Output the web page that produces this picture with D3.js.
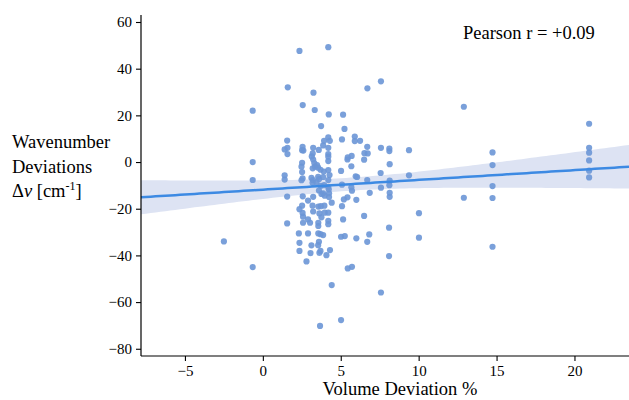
<!DOCTYPE html>
<html>
<head>
<meta charset="utf-8">
<script src="https://cdn.jsdelivr.net/npm/d3@7"></script>
<style>
  body { margin: 0; background: #fff; }
  svg text { font-family: "Liberation Serif", "Times New Roman", serif; fill: #000; }
</style>
</head>
<body>
<svg id="chart" width="629" height="400"></svg>
<script>
// volume deviation (%) and wavenumber deviation (cm-1)
const volDev = [
  -0.65, -0.65, -0.65, -0.65, -2.5,
  1.6, 1.56, 1.4, 1.58, 1.58, 1.4, 1.4, 1.56, 1.56,
  2.35, 2.56, 2.55, 2.52, 2.6, 2.52, 2.48, 2.52, 2.55, 2.48, 2.56, 2.52, 2.35, 2.55, 2.58, 2.58, 2.31, 2.35, 2.35, 2.8,
  3.25, 3.33, 3.23, 3.2, 3.14, 3.23, 3.3, 3.2, 3.35, 3.12, 3.22, 3.19, 3.23, 2.9, 3.19, 3.23, 2.9, 3.03, 2.9, 3.12, 3.06,
  3.74, 3.59, 3.87, 3.48, 3.55, 3.7, 3.55, 3.61, 3.44, 3.72, 3.6, 3.76, 3.56, 3.72, 3.63, 3.76, 3.56, 3.56, 3.56, 3.7, 3.6, 3.55, 3.63, 3.7, 3.67,
  4.2, 4.23, 3.93, 4.2, 4.3, 4.2, 4.2, 4.2, 4.2, 3.91, 4.2, 4.28, 3.87, 4.2, 3.93, 4.2, 4.23, 3.87, 4.25, 3.97, 4.25, 3.95, 4.42, 3.97, 4.2, 4.2, 4.2, 3.87, 4.08, 4.31, 4.42,
  5.15, 5.24, 5.08, 5.02, 5.08, 5.43, 5.2, 5.08, 5.15, 5.02, 5.26, 5.02, 5.45, 5.43,
  5.9, 5.9, 6.24, 5.7, 5.68, 5.96, 6.05, 5.68, 5.72, 6.0, 6.0, 5.45, 5.72,
  6.71, 6.7, 6.52, 6.73, 6.5, 6.7, 6.86, 6.5, 6.83, 6.7,
  7.58, 7.58, 7.56, 7.58, 7.58,
  8.12, 8.12, 8.14, 8.14, 8.12, 8.14, 8.14, 8.1, 8.1,
  9.38, 9.38, 10.02, 10.02, 12.9, 12.9,
  14.74, 14.74, 14.74, 14.74, 14.74,
  20.94, 20.94, 20.94, 20.94, 20.94, 20.94
];
const waveDev = [
  22, 0, -7.7, -45, -34,
  32, 9.2, 5.4, 6.1, 3.4, -5.7, -7.5, -14.8, -26.3,
  47.6, 24.4, 6.5, 5.1, 4.9, -0.3, -2, -4.3, -7, -7.8, -14.7, -18.7, -20.2, -21.8, -23.4, -26, -30.6, -34.6, -38.1, -42.6,
  29.7, 22.3, 6.1, 3.7, 2.4, 1.1, -0.4, -2.7, -2, -6.8, -7.7, -8.9, -14.9, -16.5, -18.7, -21.2, -24.6, -26, -30.6, -35.7, -39,
  15.4, 5.2, 7.1, -1.3, -2.4, -3.3, -6.3, -7.3, -8.7, -10.2, -12.2, -13.7, -19.1, -18.9, -22, -23.7, -26, -27.4, -30.6, -30.9, -34.2, -35.6, -38.9, -38.1, -70.2,
  49.2, 20.4, 9.1, 10.6, 9.1, 6.1, 3.4, 2.3, 0.4, -4.1, -3.4, -5.6, -6.4, -7.7, -9.9, -10.6, -11.7, -13.4, -13.4, -14.4, -15, -18.7, -17.4, -21.7, -21.7, -25.2, -26.6, -31.3, -39.9, -37.7, -52.7,
  20.3, 14.2, 9.7, -3.8, -9.7, -15.1, -16, -18.9, -24.6, -32, -31.7, -67.7, 2, 1.1,
  10.9, 9, 9.1, 2.6, -1.8, -6.1, -6.4, -10.8, -12.3, -16.2, -32.7, -45.6, -44.9,
  31.6, 6.5, 3.8, 3.7, 1, -7.7, -13.2, -23.1, -31, -34.2,
  34.6, 6.1, -4.7, -11, -55.9,
  5.8, 4.7, -0.9, -8, -9.9, -13.2, -14.9, -28.1, -40.3,
  5.1, -5.7, -21.9, -32.4, 23.7, -15.3,
  4.1, -1.3, -10.3, -15.4, -36.3,
  16.4, 6.1, 4, 0.7, -3.7, -6.6
];
// regression fit: line and 95% band
const fitIntercept = -11.83, fitSlope = 0.418;
const bandCentre = 5.7, bandMin = 2.8, bandGrowth = 0.5;
const xTicks = [-5, 0, 5, 10, 15, 20];
const yTicks = [-80, -60, -40, -20, 0, 20, 40, 60];
const yLabelLines = ["Wavenumber", "Deviations"];
const pearsonLabel = "Pearson r = +0.09";

const serif = '"Liberation Serif", "Times New Roman", serif';
const svg = d3.select('#chart');
const margin = { left: 141, right: 0, top: 15, bottom: 44 };
const width = 629, height = 400;

const x = d3.scaleLinear().domain([-7.82, 23.5]).range([margin.left, width - margin.right]);
const y = d3.scaleLinear().domain([-83.1, 63]).range([height - margin.bottom, margin.top]);

const points = volDev.map(function(v, i) { return { x: v, y: waveDev[i] }; });

const fitX = d3.range(0, 101).map(i => x.domain()[0] + (x.domain()[1] - x.domain()[0]) * i / 100);
const fit = fitX.map(function(xv) {
    const yv = fitIntercept + fitSlope * xv;
    const h = Math.sqrt(bandMin * bandMin + Math.pow(bandGrowth * (xv - bandCentre), 2));
    return { x: xv, y: yv, lo: yv - h, hi: yv + h };
});

const plot = svg.append('g');
plot.append('path')
    .datum(fit)
    .attr('fill', '#dde3f3')
    .attr('d', d3.area().x(d => x(d.x)).y0(d => y(d.lo)).y1(d => y(d.hi)));

plot.selectAll('circle')
    .data(points)
    .enter()
    .append('circle')
    .attr('cx', d => x(d.x))
    .attr('cy', d => y(d.y))
    .attr('r', 3.1)
    .attr('fill', '#6b96d6')
    .attr('fill-opacity', 0.9);

plot.append('path')
    .datum(fit)
    .attr('fill', 'none')
    .attr('stroke', '#3d8ae3')
    .attr('stroke-width', 2.5)
    .attr('d', d3.line().x(d => x(d.x)).y(d => y(d.y)));

// axes
const xAxis = svg.append('g')
    .attr('transform', 'translate(0,' + (height - margin.bottom) + ')')
    .call(d3.axisBottom(x).tickValues(xTicks).tickSize(5).tickPadding(4));
const yAxis = svg.append('g')
    .attr('transform', 'translate(' + margin.left + ',0)')
    .call(d3.axisLeft(y).tickValues(yTicks).tickSize(5).tickPadding(4));
[xAxis, yAxis].forEach(function(a) {
    a.attr('font-family', serif);
    a.selectAll('path').attr('stroke', '#000').attr('stroke-width', 1.2);
    a.selectAll('line').attr('stroke', '#000').attr('stroke-width', 1.1);
    a.selectAll('text').attr('font-size', 15).attr('fill', '#000');
});
xAxis.select('.domain').attr('d', 'M' + margin.left + ',0H' + width);
yAxis.select('.domain').attr('d', 'M0,' + (height - margin.bottom) + 'V' + margin.top);

svg.append('text')
    .attr('x', 400)
    .attr('y', 395)
    .attr('text-anchor', 'middle')
    .attr('font-size', 18.5)
    .text('Volume Deviation %');

const yl = svg.append('text').attr('font-size', 18.5);
yLabelLines.forEach(function(s, i) {
    yl.append('tspan').attr('x', 12).attr('y', 148 + i * 24.5).text(s);
});
const last = yl.append('tspan').attr('x', 12).attr('y', 197);
last.append('tspan').text('Δ');
last.append('tspan').attr('font-style', 'italic').text('ν');
last.append('tspan').text(' [cm');
last.append('tspan').attr('font-size', 12).attr('dy', -7).text('-1');
last.append('tspan').attr('dy', 7).text(']');

svg.append('text')
    .attr('x', 463)
    .attr('y', 39)
    .attr('font-size', 18.5)
    .text(pearsonLabel);

// make sure every label uses the serif face
svg.selectAll('text').style('font-family', serif);
</script>
</body>
</html>
